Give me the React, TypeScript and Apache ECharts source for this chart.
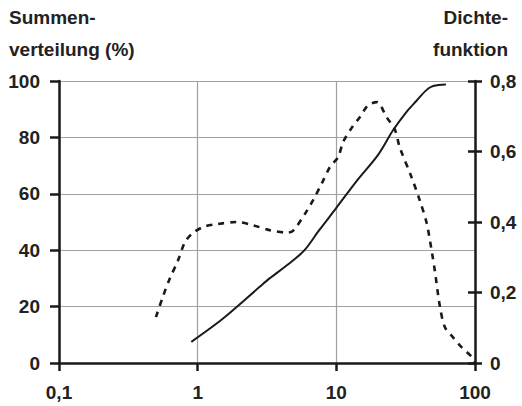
import React, { useEffect, useRef } from "react";
import * as echarts from "echarts";

// Cumulative distribution (%) vs particle size (log)
const cumX = [0.9, 1.5, 2.8, 3.3, 4.5, 5.9, 7.5, 10, 14, 20, 25.7, 32, 37.9, 44, 48.6, 55, 61.7];
const cumY = [7.5, 15.5, 27, 30, 35, 40, 47, 55, 64.5, 73.8, 82.6, 89, 93, 96.5, 98, 98.6, 98.8];

// Density function vs particle size (log)
const denX = [0.5, 0.56, 0.63, 0.72, 0.81, 0.925, 1.1, 1.38, 1.92, 2.5, 3.3, 4.4, 4.87, 5.94, 6.8, 7.87, 9.0, 10.3, 11.2, 12.9, 14.8, 17.0, 19.6, 23, 26.5, 28.6, 34.8, 39.9, 44.8, 49, 51.5, 55.9, 60.6, 69, 80, 95, 100];
const denY = [0.13, 0.187, 0.24, 0.29, 0.343, 0.369, 0.386, 0.394, 0.4, 0.391, 0.377, 0.37, 0.375, 0.423, 0.462, 0.51, 0.556, 0.584, 0.627, 0.667, 0.698, 0.732, 0.74, 0.698, 0.661, 0.613, 0.528, 0.462, 0.397, 0.312, 0.258, 0.159, 0.102, 0.074, 0.045, 0.017, 0];

const xTickLabels: Record<string, string> = { "-1": "0,1", "0": "1", "1": "10", "2": "100" };
const leftTitle = ["Summen-", "verteilung (%)"];
const rightTitle = ["Dichte-", "funktion"];

const FONT = "'Liberation Sans', Arial, sans-serif";
const TXT = "#222";
const INK = "#1a1a1a";

export default function App() {
  const ref = useRef<HTMLDivElement>(null);
  useEffect(() => {
    if (!ref.current) return;
    const chart = echarts.init(ref.current, undefined, { renderer: "svg" });
    const labelStyle = { color: TXT, fontSize: 19, fontWeight: "bold" as const, fontFamily: FONT };
    const tick = () => ({ color: INK, width: 2.5 });
    chart.setOption({
      animation: false,
      backgroundColor: "#fff",
      grid: { left: 59, right: 47, top: 81, bottom: 43, containLabel: false },
      xAxis: {
        type: "log",
        logBase: 10,
        min: 0.1,
        max: 100,
        axisLine: { show: true, onZero: false, lineStyle: { color: INK, width: 2.5 } },
        axisTick: { show: true, length: 8, lineStyle: tick() },
        minorTick: { show: false },
        splitLine: { show: true, lineStyle: { color: "#a0a0a0", width: 1.2 } },
        axisLabel: {
          ...labelStyle,
          margin: 20,
          formatter: (v: number) => xTickLabels[String(Math.round(Math.log10(v)))] ?? "",
        },
      },
      yAxis: [
        {
          type: "value",
          min: 0,
          max: 100,
          interval: 20,
          position: "left",
          axisLine: { show: true, lineStyle: { color: INK, width: 2.5 } },
          axisTick: { show: true, length: 9, lineStyle: tick() },
          splitLine: { show: true, lineStyle: { color: "#a0a0a0", width: 1.2 } },
          axisLabel: { ...labelStyle, margin: 19 },
        },
        {
          type: "value",
          min: 0,
          max: 0.8,
          interval: 0.2,
          position: "right",
          axisLine: { show: true, lineStyle: { color: INK, width: 2.5 } },
          axisTick: { show: true, length: 7, lineStyle: tick() },
          splitLine: { show: false },
          axisLabel: {
            ...labelStyle,
            margin: 15,
            formatter: (v: number) => (v === 0 ? "0" : v.toFixed(1).replace(".", ",")),
          },
        },
        {
          type: "value",
          min: 0,
          max: 0.8,
          interval: 0.2,
          position: "right",
          axisLine: { show: false },
          axisTick: { show: true, inside: true, length: 7, lineStyle: tick() },
          splitLine: { show: false },
          axisLabel: { show: false },
        },
      ],
      series: [
        {
          type: "line",
          yAxisIndex: 0,
          data: cumX.map((x, i) => [x, cumY[i]]),
          showSymbol: false,
          smooth: 0.3,
          lineStyle: { color: INK, width: 2, type: "solid" },
        },
        {
          type: "line",
          yAxisIndex: 1,
          data: denX.map((x, i) => [x, denY[i]]),
          showSymbol: false,
          smooth: 0.3,
          lineStyle: { color: INK, width: 2.6, type: [6, 6] },
        },
      ],
      graphic: [
        ...leftTitle.map((t, i) => ({
          type: "text",
          left: 9,
          top: 8 + i * 32,
          style: { text: t, fill: TXT, font: `bold 19px ${FONT}` },
        })),
        ...rightTitle.map((t, i) => ({
          type: "text",
          right: 14,
          top: 8 + i * 32,
          style: { text: t, fill: TXT, font: `bold 19px ${FONT}` },
        })),
      ],
    });
    return () => chart.dispose();
  }, []);
  return <div ref={ref} style={{ position: "fixed", left: 0, top: 0, width: 522, height: 406 }} />;
}
